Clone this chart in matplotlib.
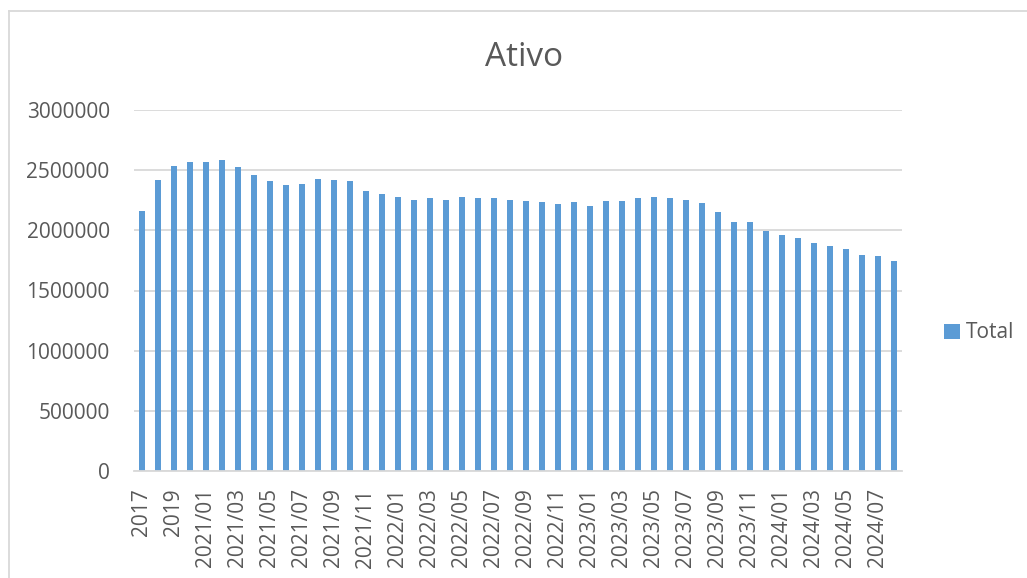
import matplotlib
matplotlib.use("Agg")
import matplotlib.pyplot as plt
from matplotlib.lines import Line2D
from matplotlib.patches import Patch

plt.rcParams['font.family'] = ['Open Sans', 'DejaVu Sans']

years = ["2017", "2018", "2019", "2020"]
months = [f"{y}/{m:02d}" for y in (2021, 2022, 2023) for m in range(1, 13)] + \
         [f"2024/{m:02d}" for m in range(1, 9)]
categories = years + months

total = [2160000, 2417000, 2533000, 2564000, 2569000, 2586000, 2525000, 2456000,
         2411000, 2375000, 2389000, 2425000, 2417000, 2406000, 2325000, 2300000,
         2281000, 2256000, 2267000, 2256000, 2275000, 2269000, 2269000, 2250000,
         2244000, 2236000, 2219000, 2233000, 2206000, 2242000, 2247000, 2272000,
         2275000, 2272000, 2256000, 2225000, 2150000, 2072000, 2067000, 1994000,
         1964000, 1936000, 1897000, 1867000, 1842000, 1797000, 1789000, 1742000]

yticks = [0, 500000, 1000000, 1500000, 2000000, 2500000, 3000000]

text_color = "#595959"
bar_color = "#5B9BD5"
grid_color = "#D9D9D9"

W, H = 1027, 578
fig = plt.figure(figsize=(W / 100, H / 100), dpi=100)
ax = fig.add_axes([134 / W, 1 - 471 / H, (902 - 134) / W, (471 - 110) / H])

x = list(range(len(categories)))
ax.bar(x, total, width=0.32, color=bar_color, zorder=3)

ax.set_xlim(-0.5, len(categories) - 0.5)
ax.set_ylim(0, 3000000)
ax.set_yticks(yticks)
ax.set_yticklabels([str(v) for v in yticks])
ax.set_xticks(x[::2])
ax.set_xticklabels(categories[::2], rotation=90, va='top', ha='center')

ax.tick_params(axis='both', length=0, labelsize=15, colors=text_color)
ax.tick_params(axis='y', pad=17.5)
ax.tick_params(axis='x', pad=12.5)

ax.yaxis.grid(True, color=grid_color, linewidth=1.3, zorder=0)
for s in ['top', 'right', 'left']:
    ax.spines[s].set_visible(False)
ax.spines['bottom'].set_color(grid_color)
ax.spines['bottom'].set_linewidth(1.3)
ax.spines['bottom'].set_zorder(4)

fig.text(524 / W, 1 - 57 / H, "Ativo", fontsize=24, color=text_color,
         ha='center', va='center')

handle = Patch(facecolor=bar_color, edgecolor='none')
fig.legend([handle], ["Total"], loc='center left',
           bbox_to_anchor=(936 / W, 1 - 333 / H), frameon=False,
           fontsize=15, labelcolor=text_color, handlelength=0.75,
           handleheight=0.75, handletextpad=0.3, borderaxespad=0)

# chart area frame (left and top edges visible)
fig.add_artist(Line2D([8.5 / W, 8.5 / W], [0, 1 - 11 / H], transform=fig.transFigure,
                      color=grid_color, linewidth=1.3))
fig.add_artist(Line2D([8.5 / W, 1], [1 - 11 / H, 1 - 11 / H], transform=fig.transFigure,
                      color=grid_color, linewidth=1.3))

fig.savefig("out.png", dpi=100, facecolor="white")
